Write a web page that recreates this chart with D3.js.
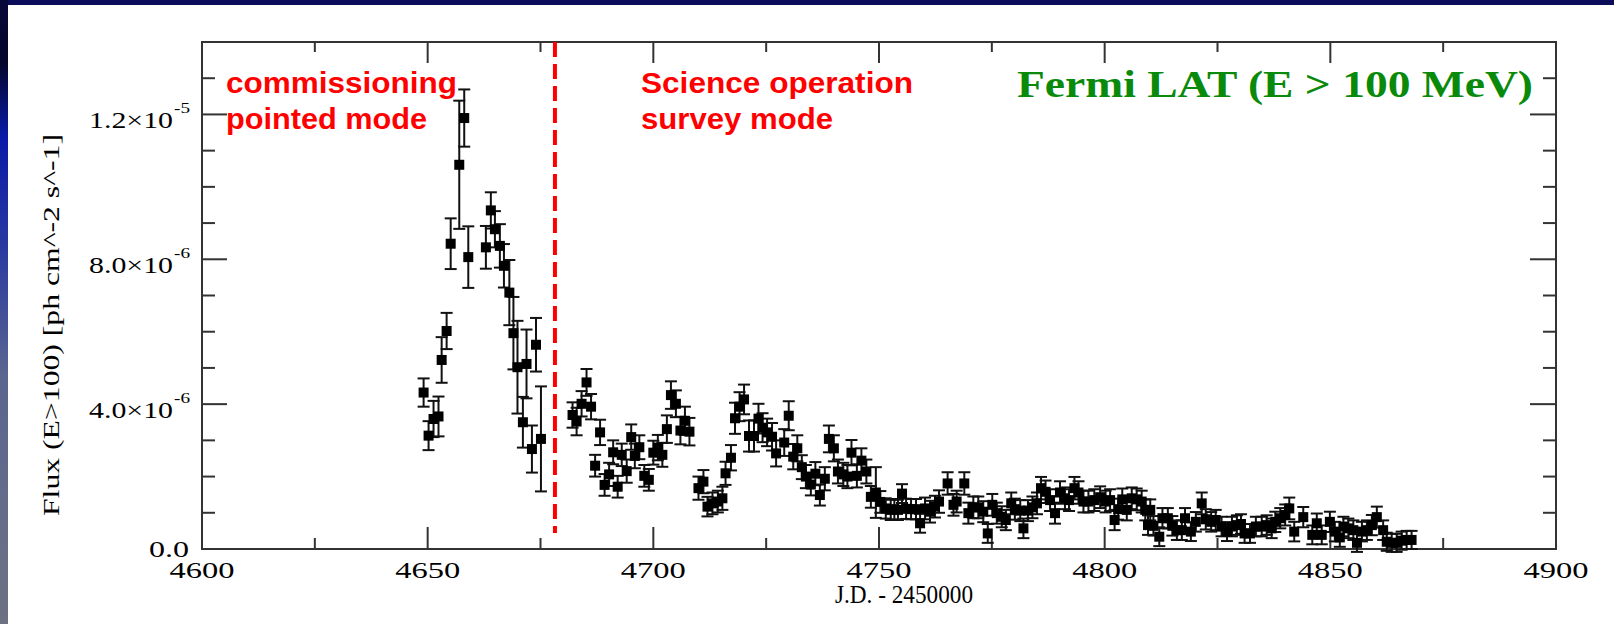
<!DOCTYPE html>
<html>
<head>
<meta charset="utf-8">
<script src="https://cdn.jsdelivr.net/npm/d3@7"></script>
<style>
  html, body { margin: 0; padding: 0; background: #fff; }
  svg { display: block; }
</style>
</head>
<body>
<svg id="chart" width="1614" height="624"></svg>
<script>
// light curve, J.D. - 2450000 vs flux in units of 1e-6 ph cm^-2 s^-1
const days = [
  4649.1, 4650.2, 4651.3, 4652.4, 4653.1, 4654.2, 4655.1, 4657.0, 4658.1, 4659.0,
  4662.9, 4664.0, 4664.9, 4666.0, 4666.9, 4668.1, 4669.0, 4669.9, 4671.1, 4671.9,
  4673.1, 4674.0, 4675.1,
  4682.1, 4683.0, 4684.1, 4685.2, 4686.2, 4687.1, 4688.2, 4689.2, 4690.2, 4691.1,
  4692.1, 4693.0, 4694.1, 4695.1, 4695.9, 4696.9, 4698.0, 4699.0, 4700.0, 4701.0,
  4702.0, 4703.0, 4703.9, 4705.0, 4706.0, 4707.0, 4708.0, 4710.0, 4711.1, 4712.0,
  4713.1, 4714.3, 4715.3, 4716.0, 4717.2, 4718.1, 4719.1, 4720.1, 4721.2, 4722.3,
  4723.3, 4724.2, 4725.2, 4726.3, 4727.2, 4729.0, 4730.0, 4731.0, 4731.9, 4732.9,
  4733.8, 4734.9, 4735.9, 4736.9, 4738.0, 4738.9, 4740.0, 4740.9, 4742.1, 4743.0,
  4743.9, 4745.1, 4746.1, 4747.2, 4748.2, 4749.3, 4750.3, 4751.5, 4752.6, 4753.4,
  4754.2, 4755.1, 4756.0, 4757.1, 4758.2, 4759.1, 4760.2, 4761.3, 4762.4, 4763.3,
  4765.2, 4766.5, 4767.2, 4768.9, 4769.8, 4770.9, 4772.0, 4773.1, 4774.1, 4775.1,
  4776.1, 4777.2, 4778.1, 4779.3, 4780.1, 4781.3, 4782.0, 4783.0, 4784.0, 4785.0,
  4785.9, 4786.9, 4787.9, 4789.0, 4790.1, 4791.2, 4792.1, 4793.3, 4794.2, 4795.3,
  4796.4, 4797.7, 4799.0, 4800.2, 4801.2, 4802.2, 4803.0, 4803.9, 4804.9, 4806.0,
  4807.1, 4808.2, 4809.0, 4809.6, 4810.1, 4810.8, 4812.1, 4812.8, 4814.0, 4815.0,
  4816.0, 4817.1, 4817.8, 4819.1, 4820.2, 4821.5, 4822.4, 4823.6, 4824.6, 4825.9,
  4827.1, 4828.2, 4829.3, 4830.2, 4831.0, 4832.2, 4833.5, 4834.8, 4835.9, 4837.0,
  4837.8, 4838.9, 4840.0, 4840.9, 4842.0, 4844.0, 4846.0, 4847.0, 4848.1, 4849.9,
  4851.0, 4852.1, 4852.9, 4854.0, 4855.1, 4855.9, 4857.0, 4858.1, 4859.2, 4860.3,
  4861.7, 4862.5, 4863.6, 4864.7, 4865.8, 4866.9, 4868.0
];

const flux = [
  4.32, 3.13, 3.59, 3.66, 5.22, 6.02, 8.43, 10.61, 11.90, 8.06,
  8.33, 9.35, 8.83, 8.37, 7.82, 7.08, 5.96, 5.02, 3.50, 5.11,
  2.76, 5.64, 3.04,
  3.70, 3.52, 4.01, 4.60, 3.93, 2.30, 3.22, 1.77, 2.06, 2.67,
  1.72, 2.60, 2.15, 3.09, 2.57, 2.81, 2.02, 1.91, 2.66, 2.80,
  2.60, 3.31, 4.25, 4.01, 3.27, 3.54, 3.24, 1.68, 1.86, 1.17,
  1.26, 1.31, 1.40, 2.09, 2.52, 3.61, 3.93, 4.13, 3.12, 3.12,
  3.60, 3.35, 3.22, 3.10, 2.64, 2.94, 3.68, 2.55, 2.78, 2.26,
  2.00, 1.78, 2.08, 1.49, 1.94, 3.04, 2.78, 2.14, 2.06, 2.00,
  2.66, 2.02, 2.44, 2.14, 1.44, 1.56, 1.30, 1.12, 1.08, 1.10,
  1.08, 1.53, 1.11, 1.10, 1.10, 0.71, 1.12, 1.03, 1.17, 1.31,
  1.81, 1.22, 1.31, 1.81, 0.99, 1.15, 1.15, 1.03, 0.43, 1.22,
  0.99, 0.89, 0.80, 1.26, 1.10, 1.06, 0.57, 1.06, 1.15, 1.26,
  1.68, 1.58, 1.35, 0.99, 1.56, 1.40, 1.35, 1.68, 1.56, 1.31,
  1.31, 1.35, 1.43, 1.31, 1.35, 0.80, 1.10, 1.37, 1.08, 1.40,
  1.37, 1.31, 1.08, 0.66, 1.08, 0.64, 0.34, 0.85, 0.85, 0.64,
  0.52, 0.52, 0.85, 0.48, 0.75, 1.26, 0.82, 0.75, 0.80, 0.62,
  0.48, 0.62, 0.66, 0.69, 0.43, 0.43, 0.62, 0.62, 0.66, 0.57,
  0.75, 0.85, 0.94, 1.12, 0.48, 0.88, 0.39, 0.71, 0.39, 0.75,
  0.48, 0.32, 0.62, 0.57, 0.52, 0.17, 0.48, 0.52, 0.66, 0.88,
  0.52, 0.20, 0.17, 0.17, 0.23, 0.25, 0.25
];

const fluxErr = [
  0.39, 0.40, 0.50, 0.55, 0.63, 0.50, 0.70, 1.77, 0.79, 0.85,
  0.59, 0.50, 0.50, 0.60, 0.60, 0.90, 1.00, 1.28, 0.70, 0.95,
  0.65, 0.74, 1.45,
  0.35, 0.38, 0.35, 0.37, 0.35, 0.30, 0.35, 0.30, 0.32, 0.33,
  0.30, 0.31, 0.32, 0.35, 0.34, 0.33, 0.30, 0.30, 0.33, 0.35,
  0.33, 0.38, 0.38, 0.37, 0.38, 0.39, 0.38, 0.32, 0.32, 0.27,
  0.30, 0.30, 0.32, 0.32, 0.35, 0.43, 0.40, 0.41, 0.43, 0.43,
  0.41, 0.40, 0.38, 0.38, 0.36, 0.37, 0.40, 0.35, 0.36, 0.33,
  0.32, 0.30, 0.32, 0.29, 0.32, 0.37, 0.36, 0.33, 0.32, 0.32,
  0.35, 0.32, 0.34, 0.33, 0.30, 0.70, 0.30, 0.28, 0.28, 0.28,
  0.28, 0.26, 0.28, 0.28, 0.28, 0.26, 0.30, 0.30, 0.30, 0.31,
  0.31, 0.30, 0.30, 0.31, 0.29, 0.30, 0.30, 0.29, 0.26, 0.30,
  0.29, 0.29, 0.28, 0.30, 0.29, 0.29, 0.27, 0.29, 0.30, 0.30,
  0.31, 0.31, 0.30, 0.29, 0.31, 0.30, 0.30, 0.31, 0.31, 0.30,
  0.30, 0.30, 0.30, 0.30, 0.30, 0.28, 0.29, 0.30, 0.29, 0.30,
  0.30, 0.30, 0.29, 0.27, 0.29, 0.27, 0.26, 0.28, 0.28, 0.27,
  0.27, 0.27, 0.28, 0.26, 0.27, 0.30, 0.28, 0.27, 0.28, 0.27,
  0.26, 0.27, 0.27, 0.27, 0.26, 0.26, 0.27, 0.27, 0.27, 0.27,
  0.28, 0.28, 0.29, 0.30, 0.27, 0.28, 0.26, 0.27, 0.26, 0.28,
  0.27, 0.26, 0.27, 0.27, 0.27, 0.25, 0.27, 0.27, 0.28, 0.29,
  0.27, 0.25, 0.25, 0.25, 0.25, 0.25, 0.25
];

const xMajorTicks = [4600, 4650, 4700, 4750, 4800, 4850, 4900];
const xMinorTicks = [4625, 4675, 4725, 4775, 4825, 4875];
const xTickLabels = ['4600', '4650', '4700', '4750', '4800', '4850', '4900'];
const yMajorTicks = [0, 4, 8, 12];
const yMinorTicks = [1, 2, 3, 5, 6, 7, 9, 10, 11, 13];
const yTickMantissa = ['0.0', '4.0\u00d710', '8.0\u00d710', '1.2\u00d710'];
const yTickExponent = ['', '-6', '-6', '-5'];

const switchDay = 4678.2; // commissioning -> survey mode

const svg = d3.select('#chart');
const W = 1614, H = 624;
const pLeft = 202, pRight = 1556, pTop = 42, pBottom = 549;

const x = d3.scaleLinear().domain([4600, 4900]).range([pLeft, pRight]);
const y = d3.scaleLinear().domain([0, 14]).range([pBottom, pTop]);

////////////////////////
///// BACKGROUND ///////
////////////////////////

const defs = svg.append('defs');
const grad = defs.append('linearGradient').attr('id', 'edge').attr('x1', 0).attr('x2', 0).attr('y1', 0).attr('y2', 1);
grad.append('stop').attr('offset', '0%').attr('stop-color', '#07083a');
grad.append('stop').attr('offset', '10%').attr('stop-color', '#05062a');
grad.append('stop').attr('offset', '22%').attr('stop-color', '#0a1aa8');
grad.append('stop').attr('offset', '40%').attr('stop-color', '#2a3aa0');
grad.append('stop').attr('offset', '60%').attr('stop-color', '#5a6590');
grad.append('stop').attr('offset', '100%').attr('stop-color', '#6c7282');

svg.append('rect').attr('width', W).attr('height', H).attr('fill', '#ffffff');
svg.append('rect').attr('x', 0).attr('y', 0).attr('width', W).attr('height', 5).attr('fill', '#0b0c5a');
svg.append('rect').attr('x', 0).attr('y', 0).attr('width', 8).attr('height', H).attr('fill', 'url(#edge)');

////////////////////////
//////// AXES //////////
////////////////////////

const axisColor = '#333';
const g = svg.append('g');

function drawTicks(values, size, orient) {
  values.forEach((v) => {
    if (orient === 'bottom') {
      g.append('line').attr('x1', x(v)).attr('x2', x(v)).attr('y1', pBottom).attr('y2', pBottom - size);
    } else if (orient === 'top') {
      g.append('line').attr('x1', x(v)).attr('x2', x(v)).attr('y1', pTop).attr('y2', pTop + size);
    } else if (orient === 'left') {
      g.append('line').attr('x1', pLeft).attr('x2', pLeft + size).attr('y1', y(v)).attr('y2', y(v));
    } else {
      g.append('line').attr('x1', pRight).attr('x2', pRight - size).attr('y1', y(v)).attr('y2', y(v));
    }
  });
}

drawTicks(xMajorTicks, 22, 'bottom');
drawTicks(xMinorTicks, 11, 'bottom');
drawTicks(xMajorTicks, 21, 'top');
drawTicks(xMinorTicks, 10, 'top');
drawTicks(yMajorTicks, 25, 'left');
drawTicks(yMinorTicks, 13, 'left');
drawTicks(yMajorTicks, 26, 'right');
drawTicks(yMinorTicks, 13, 'right');

g.selectAll('line').attr('stroke', axisColor).attr('stroke-width', 2);

g.append('rect')
  .attr('x', pLeft).attr('y', pTop)
  .attr('width', pRight - pLeft).attr('height', pBottom - pTop)
  .attr('fill', 'none').attr('stroke', axisColor).attr('stroke-width', 2);

const serif = '"Liberation Serif", "Times New Roman", serif';

// x tick labels
svg.append('g').selectAll('text')
  .data(xMajorTicks)
  .enter().append('text')
  .attr('x', (d) => x(d))
  .attr('y', 578)
  .attr('text-anchor', 'middle')
  .attr('font-family', serif)
  .attr('font-size', 23)
  .attr('textLength', 65)
  .attr('lengthAdjust', 'spacingAndGlyphs')
  .text((d, i) => xTickLabels[i]);

// y tick labels
yMajorTicks.forEach((v, i) => {
  const hasExp = yTickExponent[i] !== '';
  const base = hasExp ? y(v) + 14 : y(v) + 8;
  const xEnd = hasExp ? 173 : 189;
  svg.append('text')
    .attr('x', xEnd).attr('y', base)
    .attr('text-anchor', 'end')
    .attr('font-family', serif).attr('font-size', 24)
    .attr('textLength', hasExp ? 84 : 40)
    .attr('lengthAdjust', 'spacingAndGlyphs')
    .text(yTickMantissa[i]);
  if (hasExp) {
    svg.append('text')
      .attr('x', xEnd + 1).attr('y', base - 15)
      .attr('font-family', serif).attr('font-size', 15)
      .attr('textLength', 16)
      .attr('lengthAdjust', 'spacingAndGlyphs')
      .text(yTickExponent[i]);
  }
});

// axis titles
svg.append('text')
  .attr('x', 904).attr('y', 603)
  .attr('text-anchor', 'middle')
  .attr('font-family', serif).attr('font-size', 25)
  .attr('textLength', 138)
  .attr('lengthAdjust', 'spacingAndGlyphs')
  .text('J.D. - 2450000');

svg.append('text')
  .attr('transform', 'translate(59,325) rotate(-90)')
  .attr('text-anchor', 'middle')
  .attr('font-family', serif).attr('font-size', 24)
  .attr('textLength', 382)
  .attr('lengthAdjust', 'spacingAndGlyphs')
  .text('Flux (E>100) [ph cm^-2 s^-1]');

////////////////////////
/////// MARKERS ////////
////////////////////////

svg.append('line')
  .attr('x1', x(switchDay)).attr('x2', x(switchDay))
  .attr('y1', y(14)).attr('y2', 533)
  .attr('stroke', '#ff0000').attr('stroke-width', 4)
  .attr('stroke-dasharray', '15,7');

const sans = '"Liberation Sans", Arial, sans-serif';
const notes = [
  { text: 'commissioning', x: 226, y: 93, w: 231 },
  { text: 'pointed mode', x: 226, y: 129, w: 201 },
  { text: 'Science operation', x: 641, y: 93, w: 272 },
  { text: 'survey mode', x: 641, y: 129, w: 192 },
];
svg.append('g').selectAll('text')
  .data(notes)
  .enter().append('text')
  .attr('x', (d) => d.x).attr('y', (d) => d.y)
  .attr('font-family', sans).attr('font-weight', 'bold').attr('font-size', 29)
  .attr('fill', '#ff0000')
  .attr('textLength', (d) => d.w)
  .attr('lengthAdjust', 'spacingAndGlyphs')
  .text((d) => d.text);

svg.append('text')
  .attr('x', 1533).attr('y', 97)
  .attr('text-anchor', 'end')
  .attr('font-family', serif).attr('font-weight', 'bold').attr('font-size', 38)
  .attr('fill', '#0a8a0a')
  .attr('textLength', 516)
  .attr('lengthAdjust', 'spacingAndGlyphs')
  .text('Fermi LAT (E > 100 MeV)');

////////////////////////
//////// DATA //////////
////////////////////////

const pts = days.map((d, i) => ({ day: d, f: flux[i], e: fluxErr[i] }));
const cap = 6;
const sq = 10;

const errG = svg.append('g').attr('stroke', '#111').attr('stroke-width', 2);
pts.forEach((p) => {
  const cx = x(p.day);
  const y0 = y(p.f - p.e), y1 = y(p.f + p.e);
  errG.append('line').attr('x1', cx).attr('x2', cx).attr('y1', y0).attr('y2', y1);
  errG.append('line').attr('x1', cx - cap).attr('x2', cx + cap).attr('y1', y0).attr('y2', y0);
  errG.append('line').attr('x1', cx - cap).attr('x2', cx + cap).attr('y1', y1).attr('y2', y1);
});

svg.append('g').selectAll('rect')
  .data(pts)
  .enter().append('rect')
  .attr('x', (d) => x(d.day) - sq / 2)
  .attr('y', (d) => y(d.f) - sq / 2)
  .attr('width', sq).attr('height', sq)
  .attr('fill', '#000');
</script>
</body>
</html>
